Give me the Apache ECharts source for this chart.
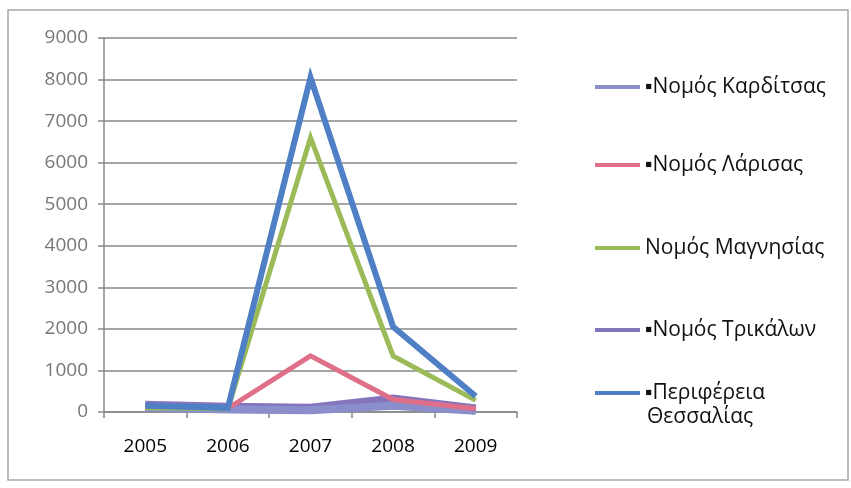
<!DOCTYPE html>
<html><head><meta charset="utf-8">
<script src="https://cdn.jsdelivr.net/npm/echarts@6/dist/echarts.min.js"></script>
<style>html,body{margin:0;padding:0;background:#fff}#c{width:851px;height:488px}</style>
</head><body><div id="c"></div>
<script>
var years = ['2005','2006','2007','2008','2009'];
var yTicks = [0,1000,2000,3000,4000,5000,6000,7000,8000,9000];
var karditsa = [100, 60, 40, 150, 30];
var larisa = [120, 90, 1350, 300, 80];
var magnisia = [100, 80, 6600, 1350, 280];
var trikala = [150, 100, 80, 300, 60];
var thessalia = [150, 100, 8050, 2050, 380];

var names = ['Νομός Καρδίτσας','Νομός Λάρισας','Νομός Μαγνησίας','Νομός Τρικάλων','Περιφέρεια Θεσσαλίας'];
var colors = ['#8a8fcc','#e0708a','#9bbb59','#8475bd','#4f7fc4'];
var values = [karditsa, larisa, magnisia, trikala, thessalia];
var widths = [8, 5, 5, 10, 6];
var legendTops = [67, 145, 228, 310, 373];
var font = 'Open Sans';

var series = names.map(function(n,i){
  return {name:n, type:'line', data:values[i], symbol:'none', z: (i===3?1:(i===0?2:3+i)),
    lineStyle:{color:colors[i], width:widths[i], join:'miter'}, itemStyle:{color:colors[i]}};
});
var order = [3,0,1,2,4];
series = order.map(function(i){return series[i];});

var legends = names.map(function(n,i){
  return {data:[n], left:590, top:legendTops[i], orient:'vertical', icon:'rect',
    itemWidth:45, itemHeight:4, itemGap:0,
    formatter:function(name){
      if(i===4) return '▪Περιφέρεια';
      return (i===2 ? '' : '▪') + name;
    },
    textStyle:{fontFamily:font, fontSize:21, color:'#111', lineHeight:30}};
});

var chart = echarts.init(document.getElementById('c'));
chart.setOption({
  animation:false,
  backgroundColor:'#fff',
  graphic:[
    {type:'rect', shape:{x:8,y:10,width:840,height:470}, style:{fill:'none', stroke:'#a8a8a8', lineWidth:1.5}, silent:true},
    {type:'text', left:647, top:407, style:{text:'Θεσσαλίας', font:'21px "Open Sans"', fill:'#111'}, silent:true}
  ],
  legend: legends,
  grid:{left:104, right:334, top:38, bottom:76},
  xAxis:{type:'category', data:years, boundaryGap:true,
    axisLine:{lineStyle:{color:'#888', width:1.5}},
    axisTick:{show:true, length:6, lineStyle:{color:'#888', width:1.5}},
    axisLabel:{fontFamily:font, fontSize:19, color:'#000', margin:25}},
  yAxis:{type:'value', min:0, max:9000, interval:1000,
    axisLine:{show:true, lineStyle:{color:'#888', width:1.5}},
    axisTick:{show:true, length:6, lineStyle:{color:'#888', width:1.5}},
    splitLine:{lineStyle:{color:'#888', width:1.5}},
    axisLabel:{fontFamily:font, fontSize:19, color:'#777', margin:16,
      formatter:function(v){return yTicks.indexOf(v)>=0 ? String(v) : '';}}},
  series: series
});
</script></body></html>
